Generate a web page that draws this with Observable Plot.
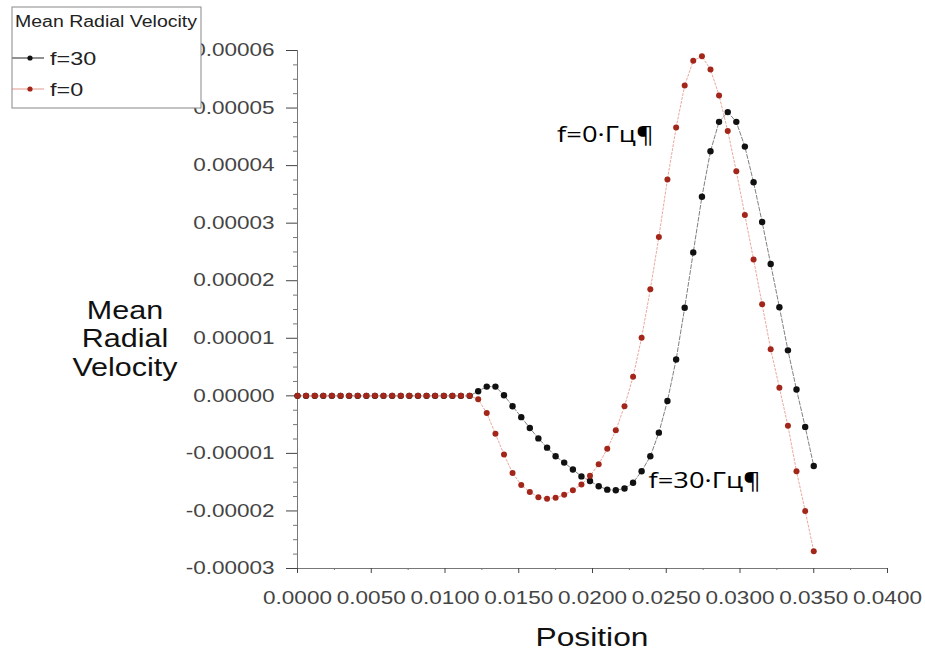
<!DOCTYPE html>
<html><head><meta charset="utf-8">
<script src="https://cdn.jsdelivr.net/npm/d3@7"></script>
<script src="https://cdn.jsdelivr.net/npm/@observablehq/plot@0.6"></script>
<style>
html,body{margin:0;padding:0;background:#fff;}
#chart{position:relative;width:925px;height:656px;overflow:hidden;}
</style></head><body><div id="chart"></div>
<script>
// Position (x) of each sample
const position = [
  0.00000, 0.00058, 0.00117, 0.00175, 0.00233, 0.00292, 0.00350, 0.00408, 0.00467, 0.00525,
  0.00583, 0.00642, 0.00700, 0.00758, 0.00817, 0.00875, 0.00933, 0.00992, 0.01050, 0.01108,
  0.01167, 0.01225, 0.01283, 0.01342, 0.01400, 0.01458, 0.01517, 0.01575, 0.01633, 0.01692,
  0.01750, 0.01808, 0.01867, 0.01925, 0.01983, 0.02042, 0.02100, 0.02158, 0.02217, 0.02275,
  0.02333, 0.02392, 0.02450, 0.02508, 0.02567, 0.02625, 0.02683, 0.02742, 0.02800, 0.02858,
  0.02917, 0.02975, 0.03033, 0.03092, 0.03150, 0.03208, 0.03267, 0.03325, 0.03383, 0.03442,
  0.03500
];
// Mean radial velocity, f=30
const f30 = [
  0, 0, 0, 0, 0, 0, 0, 0, 0, 0,
  0, 0, 0, 0, 0, 0, 0, 0, 0, 0,
  0, 0.08e-5, 0.16e-5, 0.16e-5, 0.01e-5, -0.18e-5, -0.37e-5, -0.56e-5, -0.74e-5, -0.90e-5,
  -1.05e-5, -1.16e-5, -1.28e-5, -1.40e-5, -1.48e-5, -1.57e-5, -1.63e-5, -1.64e-5, -1.61e-5, -1.51e-5,
  -1.31e-5, -1.05e-5, -0.64e-5, -0.09e-5, 0.63e-5, 1.53e-5, 2.49e-5, 3.46e-5, 4.25e-5, 4.76e-5,
  4.93e-5, 4.76e-5, 4.33e-5, 3.71e-5, 3.02e-5, 2.29e-5, 1.54e-5, 0.79e-5, 0.11e-5, -0.54e-5,
  -1.22e-5
];
// Mean radial velocity, f=0
const f0 = [
  0, 0, 0, 0, 0, 0, 0, 0, 0, 0,
  0, 0, 0, 0, 0, 0, 0, 0, 0, 0,
  0, -0.06e-5, -0.30e-5, -0.66e-5, -1.02e-5, -1.34e-5, -1.55e-5, -1.67e-5, -1.76e-5, -1.79e-5,
  -1.77e-5, -1.72e-5, -1.64e-5, -1.54e-5, -1.39e-5, -1.19e-5, -0.92e-5, -0.60e-5, -0.18e-5, 0.33e-5,
  1.01e-5, 1.85e-5, 2.76e-5, 3.76e-5, 4.66e-5, 5.39e-5, 5.82e-5, 5.90e-5, 5.67e-5, 5.22e-5,
  4.60e-5, 3.90e-5, 3.14e-5, 2.37e-5, 1.59e-5, 0.81e-5, 0.14e-5, -0.52e-5, -1.31e-5, -2.00e-5,
  -2.70e-5
];
const xTicks = [0, 0.005, 0.010, 0.015, 0.020, 0.025, 0.030, 0.035, 0.040];
const xMinorTicks = [0.0025, 0.0075, 0.0125, 0.0175, 0.0225, 0.0275, 0.0325, 0.0375];
const yTicks = [-0.00003, -0.00002, -0.00001, 0, 0.00001, 0.00002, 0.00003, 0.00004, 0.00005, 0.00006];
const yMinorTicks = [
  -0.0000275, -0.000025, -0.0000225, -0.0000175, -0.000015, -0.0000125, -0.0000075, -0.000005, -0.0000025,
  0.0000025, 0.000005, 0.0000075, 0.0000125, 0.000015, 0.0000175, 0.0000225, 0.000025, 0.0000275,
  0.0000325, 0.000035, 0.0000375, 0.0000425, 0.000045, 0.0000475, 0.0000525, 0.000055, 0.0000575
];
const seriesNames = ["f=30", "f=0"];
const legendTitle = "Mean Radial Velocity";
const yTitle = ["Mean", "Radial", "Velocity"];
const xTitle = "Position";

const rows30 = position.map((x, i) => ({x, y: f30[i]}));
const rows0 = position.map((x, i) => ({x, y: f0[i]}));

const FONT = "'Liberation Sans', Arial, Helvetica, sans-serif";
const chart = Plot.plot({
  width: 925, height: 656,
  marginLeft: 297, marginRight: 38, marginTop: 50, marginBottom: 88,
  style: {fontFamily: FONT, fontSize: "18px", background: "#fff", overflow: "visible"},
  x: {domain: [0, 0.04]},
  y: {domain: [-0.00003, 0.00006]},
  marks: [
    Plot.ruleX([0], {stroke: "#777"}),
    Plot.ruleY([-0.00003], {stroke: "#777"}),
    Plot.axisY({ticks: yTicks, tickFormat: d => d.toFixed(5), tickSize: 11, tickPadding: 12, color: "#444", label: null}),
    Plot.axisY({ticks: yMinorTicks, tickFormat: () => "", tickSize: 4, color: "#777", label: null}),
    Plot.axisX({ticks: xTicks, tickFormat: d => d.toFixed(4), tickSize: 5, tickPadding: 18, color: "#444", label: null}),
    Plot.axisX({ticks: xMinorTicks, tickFormat: () => "", tickSize: 2, color: "#777", label: null}),
    Plot.line(rows30, {x: "x", y: "y", stroke: "#808080", strokeWidth: 1, strokeDasharray: "4,2"}),
    Plot.dot(rows30, {x: "x", y: "y", r: 3.2, fill: "#111", stroke: "none"}),
    Plot.line(rows0, {x: "x", y: "y", stroke: "#eaa79c", strokeWidth: 1, strokeDasharray: "2,2"}),
    Plot.dot(rows0, {x: "x", y: "y", r: 3, fill: "#a3261a", stroke: "none"}),
    Plot.text([{t: "f=0·Гц¶", x: 0.0176, y: 4.52e-5}, {t: "f=30·Гц¶", x: 0.0238, y: -1.48e-5}],
      {x: "x", y: "y", text: "t", textAnchor: "start", lineAnchor: "middle", fontSize: 21, fill: "#000",
       fontFamily: "'Open Sans', 'Noto Sans', sans-serif"})
  ]
});
document.getElementById("chart").append(chart);

const svg = d3.select(chart);
function stretch(sel, k) {
  sel.each(function() {
    const L = this.getComputedTextLength();
    if (L > 0) { this.setAttribute("textLength", L * k); this.setAttribute("lengthAdjust", "spacingAndGlyphs"); }
  });
}
stretch(svg.selectAll('g[aria-label$="tick label"] text'), 1.25);
stretch(svg.selectAll('g[aria-label="text"] text'), 1.3);

// axis titles
const ty = svg.append("g").attr("font-family", FONT).attr("font-size", 25).attr("fill", "#111").attr("text-anchor", "middle");
const tyBase = [319, 347, 376];
yTitle.forEach((s, i) => ty.append("text").attr("x", 125).attr("y", tyBase[i]).text(s));
svg.append("text").attr("x", 592).attr("y", 646).attr("text-anchor", "middle")
  .attr("font-family", FONT).attr("font-size", 26).attr("fill", "#111").attr("class", "xt").text(xTitle);
stretch(ty.selectAll("text"), 1.22);
stretch(svg.selectAll("text.xt"), 1.22);

// legend
const lg = svg.append("g").attr("text-anchor", "start");
lg.append("rect").attr("x", 12).attr("y", 7).attr("width", 189).attr("height", 101).attr("fill", "#fff").attr("stroke", "none");
const title = lg.append("text").attr("x", 15).attr("y", 27).attr("font-family", FONT).attr("font-size", 16).attr("fill", "#222").text(legendTitle);
const legCol = [{line: "#222", dot: "#111", y: 58, base: 65}, {line: "#e3968a", dot: "#a3261a", y: 89, base: 96}];
seriesNames.forEach((n, i) => {
  const c = legCol[i];
  lg.append("line").attr("x1", 12).attr("x2", 44).attr("y1", c.y).attr("y2", c.y).attr("stroke", c.line).attr("stroke-width", 1);
  lg.append("circle").attr("cx", 30).attr("cy", c.y).attr("r", 2.6).attr("fill", c.dot);
  lg.append("text").attr("class", "lt").attr("x", 50).attr("y", c.base).attr("font-family", FONT).attr("font-size", 18).attr("fill", "#222").text(n);
});
lg.append("rect").attr("x", 12).attr("y", 7).attr("width", 189).attr("height", 101).attr("fill", "none").attr("stroke", "#888");
// fit the title inside the box
title.each(function() {
  const L = this.getComputedTextLength();
  this.setAttribute("textLength", Math.min(L * 1.3, 182));
  this.setAttribute("lengthAdjust", "spacingAndGlyphs");
});
stretch(lg.selectAll("text.lt"), 1.3);
</script></body></html>
